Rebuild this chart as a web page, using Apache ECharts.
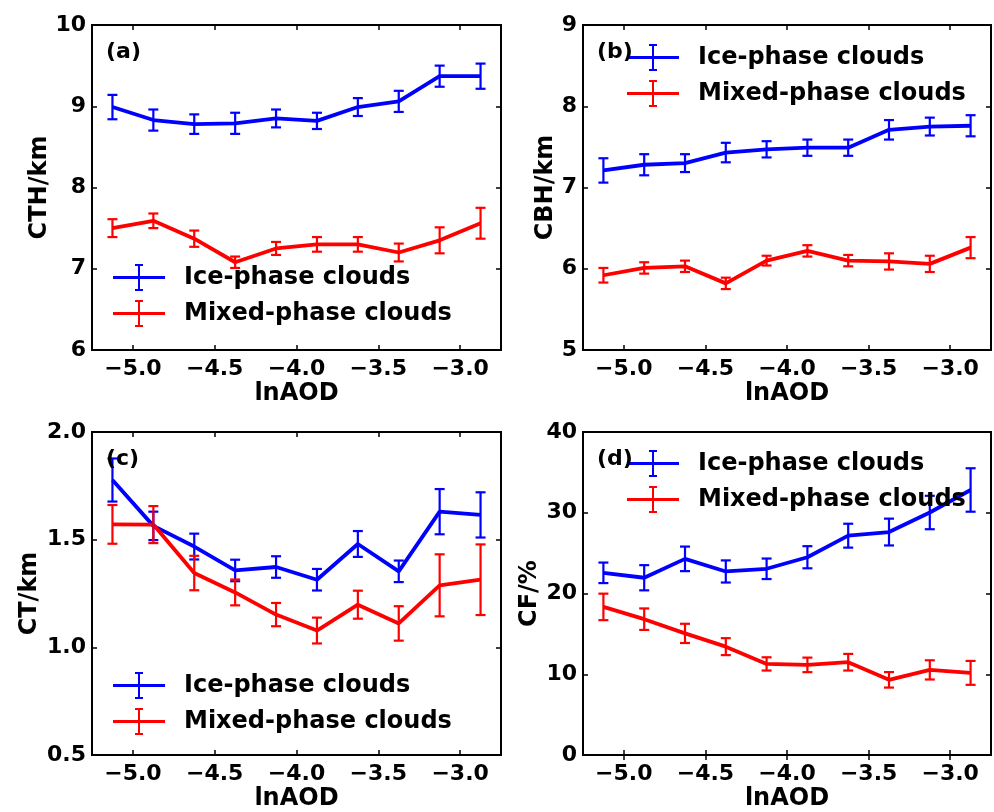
<!DOCTYPE html>
<html>
<head>
<meta charset="utf-8">
<title>lnAOD cloud properties</title>
<script src="https://cdn.jsdelivr.net/npm/echarts@6.0.0/dist/echarts.min.js"></script>
<style>
  html, body { margin: 0; padding: 0; background: #fff; }
  #main { width: 994px; height: 812px; }
</style>
</head>
<body>
<div id="main"></div>
<script>
// x positions (bin centres of lnAOD)
const lnAOD = [-5.125, -4.875, -4.625, -4.375, -4.125, -3.875, -3.625, -3.375, -3.125, -2.875]
const xTicks = [-5.0, -4.5, -4.0, -3.5, -3.0]

// (a) cloud top height
const cthIce = [8.99, 8.83, 8.78, 8.79, 8.85, 8.82, 8.99, 9.06, 9.37, 9.37]
const cthIceErr = [0.15, 0.13, 0.12, 0.13, 0.11, 0.10, 0.11, 0.13, 0.13, 0.155]
const cthMix = [7.50, 7.59, 7.37, 7.08, 7.25, 7.30, 7.30, 7.20, 7.35, 7.56]
const cthMixErr = [0.11, 0.09, 0.10, 0.07, 0.08, 0.09, 0.09, 0.11, 0.16, 0.19]

// (b) cloud base height
const cbhIce = [7.21, 7.28, 7.30, 7.43, 7.47, 7.49, 7.49, 7.71, 7.75, 7.76]
const cbhIceErr = [0.15, 0.13, 0.11, 0.12, 0.10, 0.10, 0.10, 0.12, 0.11, 0.13]
const cbhMix = [5.92, 6.01, 6.03, 5.82, 6.10, 6.22, 6.10, 6.09, 6.06, 6.26]
const cbhMixErr = [0.09, 0.07, 0.07, 0.07, 0.06, 0.07, 0.07, 0.10, 0.10, 0.13]

// (c) cloud thickness
const ctIce = [1.777, 1.564, 1.468, 1.357, 1.373, 1.314, 1.480, 1.353, 1.630, 1.615]
const ctIceErr = [0.10, 0.066, 0.06, 0.05, 0.05, 0.05, 0.06, 0.05, 0.105, 0.105]
const ctMix = [1.571, 1.570, 1.345, 1.255, 1.152, 1.078, 1.198, 1.111, 1.288, 1.314]
const ctMixErr = [0.09, 0.086, 0.08, 0.06, 0.054, 0.06, 0.065, 0.08, 0.144, 0.164]

// (d) cloud fraction
const cfIce = [22.56, 21.95, 24.29, 22.73, 23.06, 24.49, 27.16, 27.61, 30.03, 32.82]
const cfIceErr = [1.27, 1.56, 1.52, 1.37, 1.27, 1.37, 1.48, 1.66, 2.07, 2.69]
const cfMix = [18.34, 16.82, 15.06, 13.42, 11.28, 11.16, 11.49, 9.31, 10.54, 10.17]
const cfMixErr = [1.64, 1.33, 1.19, 1.05, 0.82, 0.90, 1.03, 0.96, 1.19, 1.48]

const ICE = "Ice-phase clouds"
const MIX = "Mixed-phase clouds"
const BLUE = "#0000ff"
const RED = "#ff0000"
const FONT = "DejaVu Sans"

const panels = [
  { label: "(a)", yName: "CTH/km", yMin: 6, yMax: 10, yStep: 1, dec: 0, nameGap: 40,
    ice: cthIce, iceErr: cthIceErr, mix: cthMix, mixErr: cthMixErr,
    grid: { left: 92, top: 25, width: 409, height: 325 }, legend: { left: 113, top: 264 } },
  { label: "(b)", yName: "CBH/km", yMin: 5, yMax: 9, yStep: 1, dec: 0, nameGap: 24,
    ice: cbhIce, iceErr: cbhIceErr, mix: cbhMix, mixErr: cbhMixErr,
    grid: { left: 583, top: 25, width: 408, height: 325 }, legend: { left: 627, top: 44 } },
  { label: "(c)", yName: "CT/km", yMin: 0.5, yMax: 2.0, yStep: 0.5, dec: 1, nameGap: 50,
    ice: ctIce, iceErr: ctIceErr, mix: ctMix, mixErr: ctMixErr,
    grid: { left: 92, top: 432, width: 409, height: 324 }, legend: { left: 113, top: 672 } },
  { label: "(d)", yName: "CF/%", yMin: 0, yMax: 40, yStep: 10, dec: 0, nameGap: 41,
    ice: cfIce, iceErr: cfIceErr, mix: cfMix, mixErr: cfMixErr,
    grid: { left: 583, top: 432, width: 408, height: 325 }, legend: { left: 627, top: 450 } },
]

// errorbar-looking legend icon: line + vertical bar with caps
const errIcon = "path://M0,12h52v3h-52z M25,0h2v27h-2z M22,0h8v2h-8z M22,25h8v2h-8z"

function fmtX(v) {
  return (v < 0 ? "\u2212" : "") + Math.abs(v).toFixed(1)
}

function errorSeries(name, color, vals, errs, idx) {
  return {
    name: name,
    type: "custom",
    xAxisIndex: idx * 2,
    yAxisIndex: idx * 2,
    z: 3,
    silent: true,
    renderItem: function (params, api) {
      const x = api.value(0)
      const lo = api.coord([x, api.value(1) - api.value(2)])
      const hi = api.coord([x, api.value(1) + api.value(2)])
      const cap = 5
      const style = { stroke: color, lineWidth: 2.2 }
      return {
        type: "group",
        children: [
          { type: "line", shape: { x1: lo[0], y1: lo[1], x2: hi[0], y2: hi[1] }, style: style },
          { type: "line", shape: { x1: lo[0] - cap, y1: lo[1], x2: lo[0] + cap, y2: lo[1] }, style: style },
          { type: "line", shape: { x1: hi[0] - cap, y1: hi[1], x2: hi[0] + cap, y2: hi[1] }, style: style },
        ],
      }
    },
    data: lnAOD.map((x, i) => [x, vals[i], errs[i]]),
  }
}

function lineSeries(name, color, vals, idx) {
  return {
    name: name,
    type: "line",
    xAxisIndex: idx * 2,
    yAxisIndex: idx * 2,
    z: 2,
    symbol: "none",
    color: color,
    lineStyle: { width: 3.8, color: color },
    data: lnAOD.map((x, i) => [x, vals[i]]),
  }
}

const grid = []
const xAxis = []
const yAxis = []
const series = []
const legend = []
const graphic = []

panels.forEach((p, i) => {
  grid.push({ ...p.grid, show: true, borderColor: "#000", borderWidth: 2, backgroundColor: "transparent" })

  const xBase = {
    type: "value",
    gridIndex: i,
    min: -5.25,
    max: -2.75,
    splitLine: { show: false },
    axisLine: { show: false },
    axisTick: { show: true, inside: true, length: 5, customValues: xTicks, lineStyle: { color: "#000", width: 1.5 } },
  }
  xAxis.push({
    ...xBase,
    position: "bottom",
    name: "lnAOD",
    nameLocation: "middle",
    nameGap: 32,
    nameTextStyle: { color: "#000", fontFamily: FONT, fontWeight: "bold", fontSize: 24 },
    axisLabel: { customValues: xTicks, color: "#000", fontFamily: FONT, fontWeight: "bold", fontSize: 22, margin: 8, formatter: fmtX },
  })
  xAxis.push({ ...xBase, position: "top", axisLabel: { show: false } })

  const yBase = {
    type: "value",
    gridIndex: i,
    min: p.yMin,
    max: p.yMax,
    interval: p.yStep,
    splitLine: { show: false },
    axisLine: { show: false },
    axisTick: { show: true, inside: true, length: 5, lineStyle: { color: "#000", width: 1.5 } },
  }
  yAxis.push({
    ...yBase,
    position: "left",
    name: p.yName,
    nameLocation: "middle",
    nameGap: p.nameGap,
    nameTextStyle: { color: "#000", fontFamily: FONT, fontWeight: "bold", fontSize: 24 },
    axisLabel: { color: "#000", fontFamily: FONT, fontWeight: "bold", fontSize: 22, margin: 6,
      formatter: (v) => v.toFixed(p.dec) },
  })
  yAxis.push({ ...yBase, position: "right", axisLabel: { show: false } })

  series.push(lineSeries(ICE, BLUE, p.ice, i))
  series.push(lineSeries(MIX, RED, p.mix, i))
  series.push(errorSeries(ICE, BLUE, p.ice, p.iceErr, i))
  series.push(errorSeries(MIX, RED, p.mix, p.mixErr, i))

  legend.push({
    left: p.legend.left,
    top: p.legend.top,
    orient: "vertical",
    padding: 0,
    itemWidth: 52,
    itemHeight: 27,
    itemGap: 9,
    selectedMode: false,
    itemStyle: { borderWidth: 0 },
    textStyle: { color: "#000", fontFamily: FONT, fontWeight: "bold", fontSize: 24, padding: [0, 0, 0, 14] },
    data: [
      { name: ICE, icon: errIcon, itemStyle: { color: BLUE } },
      { name: MIX, icon: errIcon, itemStyle: { color: RED } },
    ],
  })

  graphic.push({
    type: "text",
    left: p.grid.left + 14,
    top: p.grid.top + 16,
    z: 10,
    style: { text: p.label, fill: "#000", font: "bold 22px '" + FONT + "'" },
  })
})

const myChart = echarts.init(document.getElementById("main"), null, { renderer: "canvas" })
myChart.setOption({
  animation: false,
  backgroundColor: "#fff",
  grid: grid,
  xAxis: xAxis,
  yAxis: yAxis,
  legend: legend,
  graphic: graphic,
  series: series,
})
</script>
</body>
</html>
